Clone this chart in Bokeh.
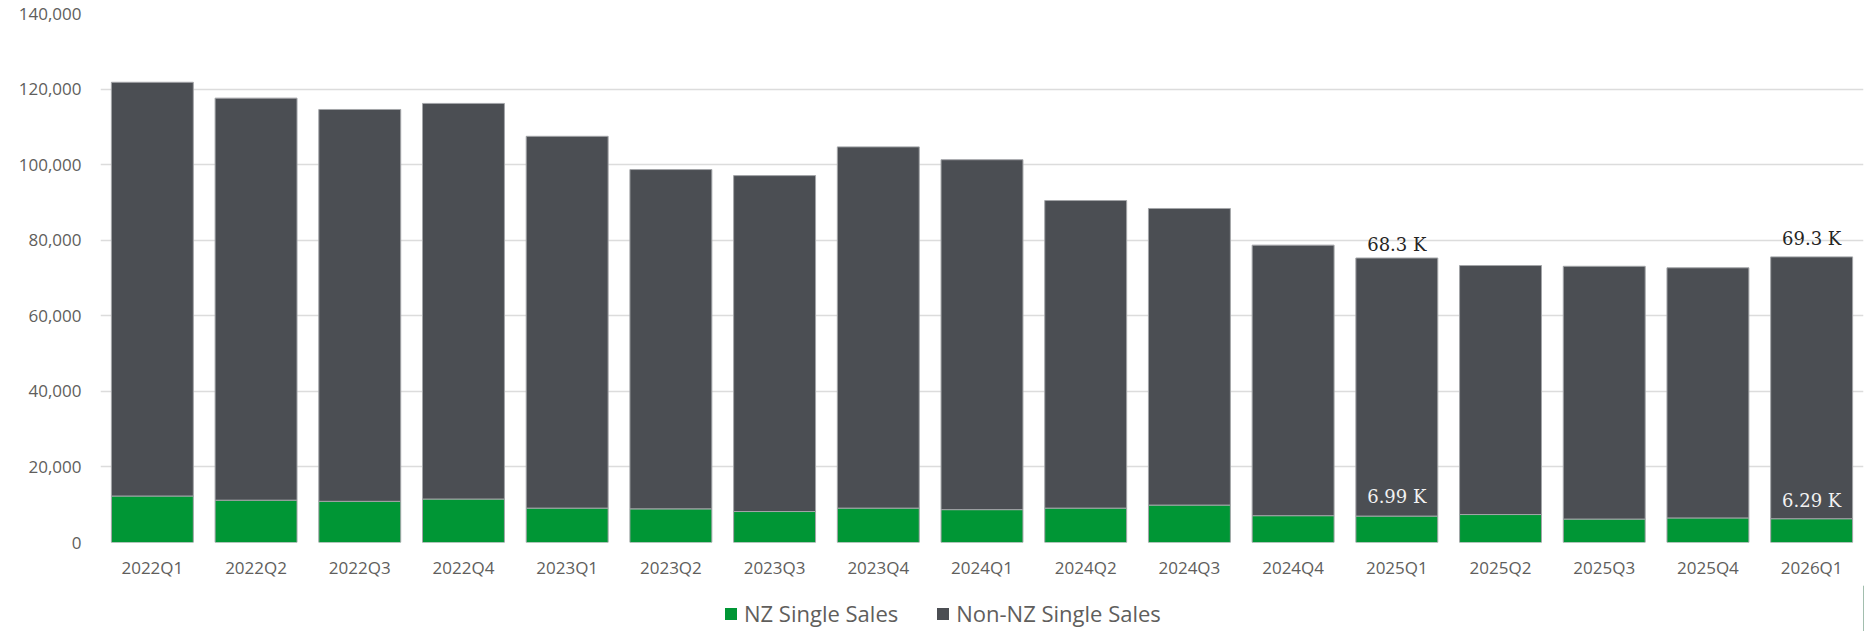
from bokeh.plotting import figure
from bokeh.layouts import column
from bokeh.models import (ColumnDataSource, Legend, LegendItem, NumeralTickFormatter,
                          FixedTicker, Range1d, FactorRange)
from bokeh.core.properties import value
from bokeh.embed import file_html
from bokeh.resources import INLINE

quarters = ["2022Q1", "2022Q2", "2022Q3", "2022Q4",
            "2023Q1", "2023Q2", "2023Q3", "2023Q4",
            "2024Q1", "2024Q2", "2024Q3", "2024Q4",
            "2025Q1", "2025Q2", "2025Q3", "2025Q4",
            "2026Q1"]
nz_sales = [12300, 11200, 10900, 11500, 9100, 8900, 8200, 9100,
            8700, 9100, 9900, 7100, 6990, 7400, 6200, 6500, 6290]
non_nz_sales = [109500, 106400, 103700, 104700, 98400, 89800, 88900, 95600,
                92600, 81400, 78500, 71600, 68300, 65900, 66900, 66200, 69300]
labeled_quarters = ["2025Q1", "2026Q1"]
y_ticks = [0, 20000, 40000, 60000, 80000, 100000, 120000, 140000]
series_names = ["NZ Single Sales", "Non-NZ Single Sales"]

GREEN = "#009635"
GRAY = "#4b4e53"
EDGE = "#a3a5a8"
TXT = "#605e5c"


def fmt_k(v):
    return f"{v / 1000:.3g} K"


src = ColumnDataSource(dict(q=quarters, nz=nz_sales, non_nz=non_nz_sales))

p = figure(width=1865, height=585, output_backend="svg", toolbar_location=None,
           x_range=FactorRange(*quarters), y_range=Range1d(0, 140000),
           min_border_left=100, min_border_right=2, min_border_top=13, min_border_bottom=43)
p.outline_line_color = None

rs = p.vbar_stack(["nz", "non_nz"], x="q", width=0.79, color=[GREEN, GRAY],
                  line_color=EDGE, line_width=1, source=src)

# data labels
top_offsets = [-14, -18]
inner_offsets = [-20, -18]
idx = [quarters.index(q) for q in labeled_quarters]
for k, i in enumerate(idx):
    p.text(x=[quarters[i]], y=[nz_sales[i] + non_nz_sales[i]], text=[fmt_k(non_nz_sales[i])],
           text_font=value("DejaVu Serif"), text_font_size="18px", text_align="center",
           text_baseline="alphabetic", y_offset=top_offsets[k], text_color="#252423")
    p.text(x=[quarters[i]], y=[nz_sales[i]], text=[fmt_k(nz_sales[i])],
           text_font=value("DejaVu Serif"), text_font_size="18px", text_align="center",
           text_baseline="alphabetic", y_offset=inner_offsets[k], text_color="#f2f2f2")

# axes
p.yaxis.ticker = FixedTicker(ticks=y_ticks)
p.yaxis.formatter = NumeralTickFormatter(format="0,0")
for ax in (p.xaxis[0], p.yaxis[0]):
    ax.axis_line_color = None
    ax.major_tick_line_color = None
    ax.minor_tick_line_color = None
    ax.major_tick_out = 0
    ax.major_tick_in = 0
    ax.major_label_text_font = "Open Sans"
    ax.major_label_text_font_size = "17px"
    ax.major_label_text_color = TXT
p.yaxis.major_label_standoff = 19
p.xaxis.major_label_standoff = 13
p.xgrid.grid_line_color = None
p.ygrid.grid_line_color = "#dcdcdc"
p.ygrid.grid_line_width = 1.5
p.ygrid.ticker = FixedTicker(ticks=y_ticks)

# legend strip below the chart (frame aligned with the chart's frame)
lg = figure(width=1865, height=46, output_backend="svg", toolbar_location=None,
            x_range=Range1d(0, 1), y_range=Range1d(0, 1),
            x_axis_type=None, y_axis_type=None,
            min_border_left=0, min_border_right=0, min_border_top=0, min_border_bottom=0)
lg.outline_line_color = None
lg.xgrid.visible = False
lg.ygrid.visible = False
# hidden swatch renderers (kept outside the visible range) used only for legend icons
g0 = lg.vbar(x=[5], top=[5], width=1, fill_color=GREEN, line_color=None)
g1 = lg.vbar(x=[5], top=[5], width=1, fill_color=GRAY, line_color=None)
legend = Legend(items=[LegendItem(label=series_names[0], renderers=[g0]),
                       LegendItem(label=series_names[1], renderers=[g1])],
                orientation="horizontal", location=(623, 3),
                padding=0, margin=0, spacing=37, label_standoff=6,
                glyph_width=15, glyph_height=15,
                label_text_font="Open Sans", label_text_font_size="22px",
                label_text_color=TXT, border_line_alpha=0, background_fill_alpha=0)
lg.add_layout(legend, "center")

layout = column(p, lg, spacing=0)
open("out.html", "w").write(file_html(layout, INLINE))
